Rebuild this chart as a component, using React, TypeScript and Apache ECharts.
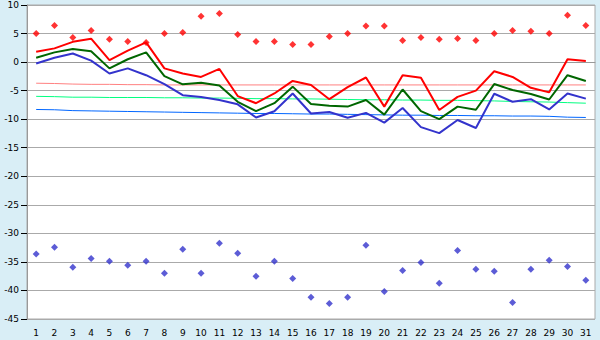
import React, { useEffect, useRef } from "react";
import * as echarts from "echarts";

const days = Array.from({ length: 31 }, (_, i) => String(i + 1));

const recordMax = [5.0, 6.4, 4.3, 5.55, 4.0, 3.6, 3.45, 5.0, 5.2, 8.05, 8.5, 4.85, 3.6, 3.6, 3.1, 3.1, 4.5, 5.0, 6.3, 6.3, 3.8, 4.3, 4.0, 4.15, 3.8, 5.0, 5.55, 5.4, 5.0, 8.2, 6.4];
const recordMin = [-33.6, -32.45, -35.95, -34.4, -34.9, -35.6, -34.9, -37.0, -32.8, -37.0, -31.75, -33.5, -37.5, -34.9, -37.9, -41.2, -42.3, -41.2, -32.1, -40.2, -36.5, -35.1, -38.75, -33.0, -36.3, -36.65, -42.1, -36.3, -34.7, -35.8, -38.2];

const maxTemp = [1.8, 2.4, 3.55, 4.1, 0.35, 2.0, 3.45, -1.1, -2.0, -2.6, -1.2, -5.95, -7.2, -5.5, -3.3, -4.0, -6.5, -4.4, -2.7, -7.8, -2.3, -2.75, -8.4, -6.1, -5.0, -1.6, -2.6, -4.5, -5.3, 0.5, 0.2];
const meanTemp = [0.75, 1.7, 2.3, 1.9, -1.1, 0.5, 1.7, -2.45, -3.9, -3.6, -4.1, -6.95, -8.6, -7.2, -4.3, -7.35, -7.65, -7.8, -6.65, -9.2, -4.8, -8.6, -10.0, -7.8, -8.35, -3.85, -4.9, -5.6, -6.55, -2.3, -3.3];
const minTemp = [-0.25, 0.75, 1.5, 0.25, -2.0, -1.1, -2.3, -3.85, -5.8, -6.1, -6.65, -7.4, -9.7, -8.6, -5.5, -9.0, -8.75, -9.75, -8.9, -10.6, -8.05, -11.4, -12.45, -10.15, -11.55, -5.55, -6.95, -6.5, -8.3, -5.5, -6.4];

const normalMax = [-3.7, -3.75, -3.85, -3.9, -3.9, -3.95, -3.95, -4.0, -4.0, -4.0, -4.0, -4.0, -4.0, -4.0, -4.0, -4.0, -4.0, -4.0, -4.0, -4.0, -4.0, -4.0, -4.0, -4.0, -4.0, -4.0, -4.0, -4.0, -4.0, -4.0, -4.0];
const normalMean = [-6.0, -6.05, -6.15, -6.15, -6.2, -6.2, -6.2, -6.25, -6.25, -6.3, -6.3, -6.35, -6.4, -6.4, -6.45, -6.45, -6.5, -6.55, -6.6, -6.6, -6.65, -6.65, -6.7, -6.7, -6.75, -6.8, -6.9, -6.95, -7.0, -7.1, -7.2];
const normalMin = [-8.3, -8.35, -8.5, -8.55, -8.6, -8.65, -8.7, -8.75, -8.8, -8.85, -8.9, -8.95, -9.0, -9.0, -9.05, -9.1, -9.1, -9.15, -9.2, -9.25, -9.3, -9.3, -9.35, -9.35, -9.4, -9.4, -9.45, -9.45, -9.5, -9.65, -9.7];

const yMin = -45;
const yMax = 10;
const yStep = 5;

export default function App() {
  const ref = useRef<HTMLDivElement>(null);
  useEffect(() => {
    if (!ref.current) return;
    const chart = echarts.init(ref.current, null, { renderer: "svg" });
    const font = { fontFamily: "DejaVu Sans", fontSize: 9, color: "#000" };
    const thin = (name: string, data: number[], color: string) => ({
      name,
      type: "line",
      data,
      symbol: "none",
      lineStyle: { color, width: 1 },
      z: 2,
    });
    const thick = (name: string, data: number[], color: string) => ({
      name,
      type: "line",
      data,
      symbol: "none",
      lineStyle: { color, width: 2 },
      z: 3,
    });
    const dots = (name: string, data: number[], color: string) => ({
      name,
      type: "scatter",
      data,
      symbol: "diamond",
      symbolSize: 7,
      itemStyle: { color },
      z: 4,
    });
    chart.setOption({
      animation: false,
      backgroundColor: "#d9eef6",
      grid: {
        left: 27,
        right: 5,
        top: 5,
        bottom: 21,
        show: true,
        backgroundColor: "#ffffff",
        borderColor: "#aaaaaa",
        borderWidth: 1,
      },
      xAxis: {
        type: "category",
        data: days,
        boundaryGap: true,
        axisLine: { lineStyle: { color: "#999999" } },
        axisTick: { alignWithLabel: true, interval: 0, length: 5, lineStyle: { color: "#000" } },
        axisLabel: { ...font, interval: 0, margin: 9 },
        splitLine: { show: false },
      },
      yAxis: {
        type: "value",
        min: yMin,
        max: yMax,
        interval: yStep,
        axisLine: { show: true, lineStyle: { color: "#999999" } },
        axisTick: { show: true, length: 6, lineStyle: { color: "#000" } },
        axisLabel: { ...font, margin: 8 },
        splitLine: { lineStyle: { color: "#aaaaaa", width: 1 } },
      },
      series: [
        thin("Normal max", normalMax, "#ff8080"),
        thin("Normal mean", normalMean, "#00ff80"),
        thin("Normal min", normalMin, "#0066ff"),
        thick("Max", maxTemp, "#ff0000"),
        thick("Mean", meanTemp, "#006600"),
        thick("Min", minTemp, "#3333cc"),
        dots("Record max", recordMax, "#ff0000"),
        dots("Record min", recordMin, "#3333cc"),
      ],
    });
    return () => chart.dispose();
  }, []);
  return (
    <div
      ref={ref}
      style={{ position: "fixed", left: 0, top: 0, width: 600, height: 340 }}
    />
  );
}
